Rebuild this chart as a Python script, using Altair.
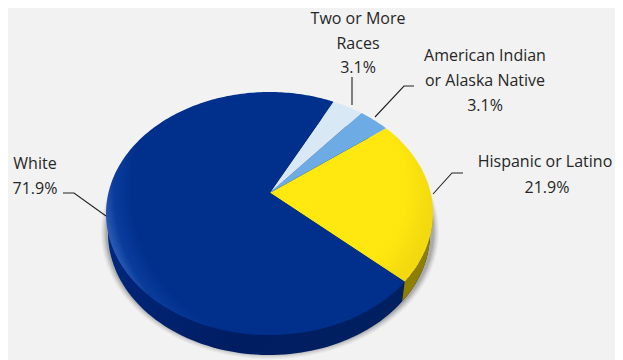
import numpy as np
import altair as alt

# values
categories = ["Hispanic or Latino", "American Indian or Alaska Native", "Two or More Races", "White"]
shares = [21.9, 3.1, 3.1, 71.9]

label_lines = ["Two or More", "Races", "3.1%", "American Indian", "or Alaska Native", "3.1%",
               "Hispanic or Latino", "21.9%", "White", "71.9%"]
label_x = [358, 358, 358, 485, 485, 485, 545, 547, 35, 35]
label_y = [24, 48.5, 73, 61, 86, 111, 167, 193, 169, 194]

leader_id = ["w", "w", "w", "h", "h", "h", "a", "a", "a", "t", "t"]
leader_x = [63, 74, 106, 463, 452, 433, 414, 404, 375, 352, 352]
leader_y = [193, 193, 216, 173, 173, 194, 86, 86, 117, 77, 105]

BG = "#f2f2f2"
M = 8  # page margin
cx, cy, a, b = 269.5, 213.5, 163.5, 121.5  # top rim
apex = (270, 192.7)
bx, by, ba, bb = 269.0, 233.0, 161.0, 122.0  # bottom rim
start = -34.2


def rim(t0, t1, n=120, e=(cx, cy, a, b)):
    ts = np.radians(np.linspace(t0, t1, n))
    return [[float(e[0] + e[2] * np.cos(t) - M), float(e[1] - e[3] * np.sin(t) - M)] for t in ts]


def shape(points):
    feat = {"type": "Feature", "properties": {},
            "geometry": {"type": "Polygon", "coordinates": [points + [points[0]]]}}
    return alt.InlineData(values={"type": "FeatureCollection", "features": [feat]},
                          format=alt.DataFormat(property="features", type="json"))


def geo(points, fill, opacity=1):
    return (alt.Chart(shape(points))
            .mark_geoshape(fill=fill, filled=True, strokeWidth=0, opacity=opacity)
            .project(type="identity", scale=1, translate=[0, 0]))


def radial(stops, x=0.5, y=0.5, r=0.5):
    return {"gradient": "radial", "x1": x, "y1": y, "r1": 0, "x2": x, "y2": y, "r2": r,
            "stops": [{"offset": o, "color": c} for o, c in stops]}


layers = []
# soft shadow
for grow, op in [(6, 0.05), (5, 0.06), (4, 0.08), (3, 0.10), (2, 0.12), (1, 0.14)]:
    layers.append(geo(rim(0, 360, 180, (bx + 1, by - 1, ba + grow + 2, bb + grow - 1)), "#555555", op))
# sides
side = {"gradient": "linear", "x1": 0, "y1": 0.5, "x2": 1, "y2": 1,
        "stops": [{"offset": 0, "color": "#00287e"}, {"offset": 0.5, "color": "#001d62"},
                  {"offset": 1, "color": "#00215f"}]}
layers.append(geo(rim(0, 360, 180, (bx, by, ba, bb)), side))
layers.append(geo(rim(start, 0, 40) + rim(0, start, 40, (bx, by, ba, bb)), "#8f7f00"))

# top faces
fills = {
    categories[0]: radial([(0, "#ffe910"), (0.8, "#fde70f"), (1, "#f3d90f")], 0.2, 0.4, 0.8),
    categories[1]: "#6cabe4",
    categories[2]: "#d8e8f4",
    categories[3]: radial([(0, "#00308c"), (0.78, "#00308c"), (0.87, "#0a3c9c"), (1, "#5a8ad8")],
                          0.60, 0.42, 0.66),
}
ap = [apex[0] - M, apex[1] - M]
t = start
for name, s in zip(categories, shares):
    t1 = t + s * 3.6
    layers.append(geo([ap] + rim(t, t1, max(8, int(s * 4))), fills[name]))
    t = t1

# leaders
lead = alt.Data(values=[{"id": i, "x": x - M, "y": y - M, "o": k}
                        for k, (i, x, y) in enumerate(zip(leader_id, leader_x, leader_y))])
layers.append(alt.Chart(lead).mark_line(color="#222222", strokeWidth=1.1).encode(
    x=alt.X("x:Q", scale=None), y=alt.Y("y:Q", scale=None), detail="id:N", order="o:Q"))

# labels
txt = alt.Data(values=[{"t": s, "x": x - M, "y": y - M}
                       for s, x, y in zip(label_lines, label_x, label_y)])
layers.append(alt.Chart(txt).mark_text(font="Open Sans", fontSize=16, color="#262626",
                                       align="center", baseline="alphabetic").encode(
    x=alt.X("x:Q", scale=None), y=alt.Y("y:Q", scale=None), text="t:N"))

chart = alt.layer(*layers).properties(
    width=607, height=352, background=BG, padding=0,
    autosize=alt.AutoSizeParams(type="none"),
).configure_view(stroke=None)

chart.save("out.html", embed_options={"renderer": "svg", "actions": False})
